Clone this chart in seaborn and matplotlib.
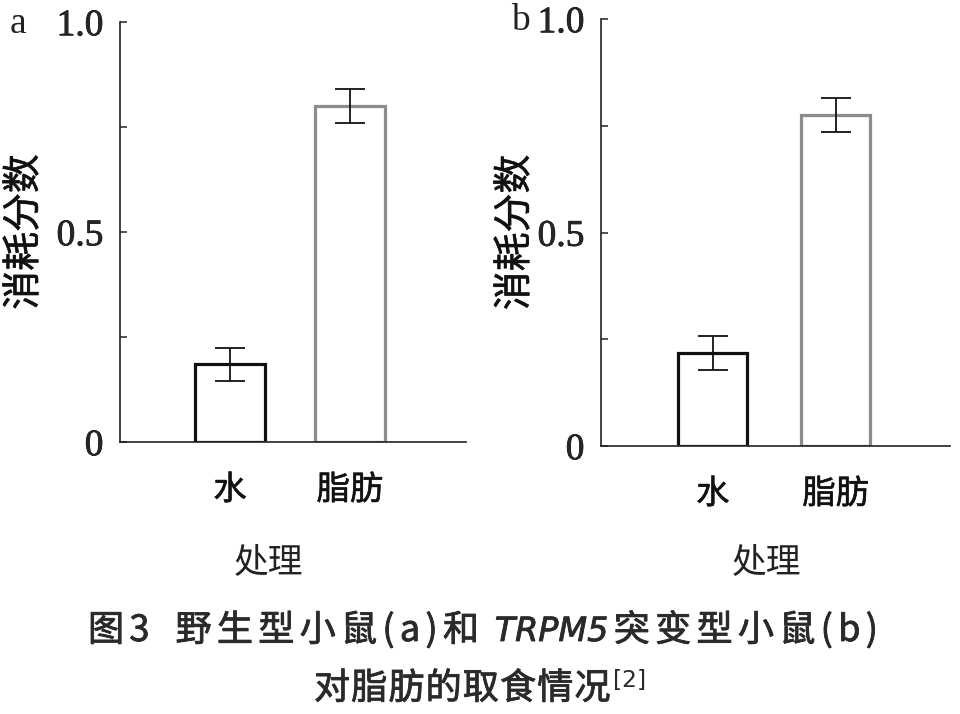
import matplotlib
matplotlib.use("Agg")
import matplotlib.pyplot as plt
import matplotlib.patheffects as pe
import seaborn as sns
import pandas as pd
from matplotlib.ticker import FixedLocator

sns.set_theme(style="white")
plt.rcParams['font.family'] = ['Noto Sans CJK SC', 'DejaVu Sans']
plt.rcParams['mathtext.fontset'] = 'dejavusans'

categories = ["水", "脂肪"]
values_a = [0.185, 0.80]
errors_a = [0.040, 0.040]
values_b = [0.218, 0.775]
errors_b = [0.040, 0.040]
panel_labels = ["a", "b"]
ytick_vals = [0, 0.5, 1.0]
ytick_labels = ["0", "0.5", "1.0"]
minor_ticks = [0.25, 0.75]
ylabel = "消耗分数"
xlabel = "处理"
# (text, italic) segments; upright segments are letter-spaced char by char
caption1_parts = [("图3  野生型小鼠(a)和 ", False), ("TRPM5", True), ("突变型小鼠(b)", False)]
caption2_parts = [("对脂肪的取食情况", False), ("$^{[2]}$", None)]

edge_colors = ["#111111", "#8c8c8c"]
bold_fx = [pe.withStroke(linewidth=0.45, foreground="#222222")]

fig = plt.figure(figsize=(9.6, 7.14), dpi=100)

specs = [
    dict(rect=[120/960, 1-442/714, 346/960, 420/714], xlim=(-0.917, 1.967), bw=0.58,
         xl=(0.428, -0.245), yl=(-0.277, 0.50), pl=(18/960, 1-24/714),
         vals=values_a, errs=errors_a, lab=panel_labels[0]),
    dict(rect=[601/960, 1-446/714, 349/960, 427/714], xlim=(-0.91, 1.93), bw=0.56,
         xl=(0.473, -0.232), yl=(-0.246, 0.50), pl=(520/960, 1-21/714),
         vals=values_b, errs=errors_b, lab=panel_labels[1]),
]

for sp in specs:
    ax = fig.add_axes(sp["rect"])
    df = pd.DataFrame({"treat": categories, "value": sp["vals"]})
    sns.barplot(data=df, x="treat", y="value", ax=ax, color="white",
                width=sp["bw"], linewidth=2.3, edgecolor="black", saturation=1)
    for patch, ec in zip(ax.patches, edge_colors):
        patch.set_edgecolor(ec)
        patch.set_facecolor("white")
    ax.errorbar(x=list(range(len(categories))), y=sp["vals"], yerr=sp["errs"],
                fmt="none", ecolor="#111111", elinewidth=1.3, capsize=11, capthick=1.3,
                zorder=5)
    ax.set_xlim(*sp["xlim"])
    ax.set_ylim(0, 1.0)
    ax.set_yticks(ytick_vals)
    ax.set_yticklabels(ytick_labels, fontfamily="Liberation Serif", fontsize=27)
    ax.yaxis.set_minor_locator(FixedLocator(minor_ticks))
    ax.tick_params(axis="y", which="both", direction="in", length=5, width=1.1,
                   color="#222222", left=True, pad=12)
    ax.tick_params(axis="x", length=0, pad=22, labelsize=24)
    for t in ax.get_xticklabels():
        t.set_color("#111111")
        t.set_path_effects(bold_fx)
    for t in ax.get_yticklabels():
        t.set_path_effects([pe.withStroke(linewidth=0.5, foreground="black")])
    for side in ["top", "right"]:
        ax.spines[side].set_visible(False)
    for side in ["left", "bottom"]:
        ax.spines[side].set_linewidth(1.2)
        ax.spines[side].set_color("#222222")
    ax.set_xlabel(xlabel, fontsize=25, color="#222222", fontweight="light")
    ax.xaxis.set_label_coords(*sp["xl"])
    ax.set_ylabel(ylabel, fontsize=28, color="#111111", va="center", path_effects=bold_fx)
    ax.yaxis.set_label_coords(*sp["yl"])
    fig.text(sp["pl"][0], sp["pl"][1], sp["lab"], fontfamily="Liberation Serif",
             fontsize=27, color="#222222", ha="center", va="center")


def spaced_line(parts, y_px, left_px, right_px, size=26):
    """Place a caption line char by char with even letter spacing between left/right."""
    y = 1 - y_px / fig.bbox.height
    fx = [pe.withStroke(linewidth=0.6, foreground="#2a2a2a")]
    items = []
    for text, italic in parts:
        if italic is None:
            items.append(fig.text(0, y, text, fontsize=size - 2, color="#2a2a2a",
                                  va="baseline"))
        elif italic:
            items.append(fig.text(0, y, text, family=["DejaVu Sans"], style="oblique",
                                  fontsize=size - 2, color="#2a2a2a", va="baseline",
                                  path_effects=fx))
        else:
            for ch in text:
                items.append(fig.text(0, y, ch, fontsize=size, color="#2a2a2a",
                                      va="baseline", path_effects=fx))
    fig.canvas.draw()
    r = fig.canvas.get_renderer()
    widths = []
    for t in items:
        if t.get_text() == " ":
            widths.append(size * 0.2)
        else:
            widths.append(t.get_window_extent(r).width)
    n_gaps = len(items) - 1
    track = (right_px - left_px - sum(widths)) / max(n_gaps, 1)
    x = left_px
    for t, w in zip(items, widths):
        t.set_x(x / fig.bbox.width)
        x += w + track


spaced_line(caption1_parts, 641, 88, 878)
spaced_line(caption2_parts, 699, 314, 645)

fig.savefig("out.png", dpi=100)
